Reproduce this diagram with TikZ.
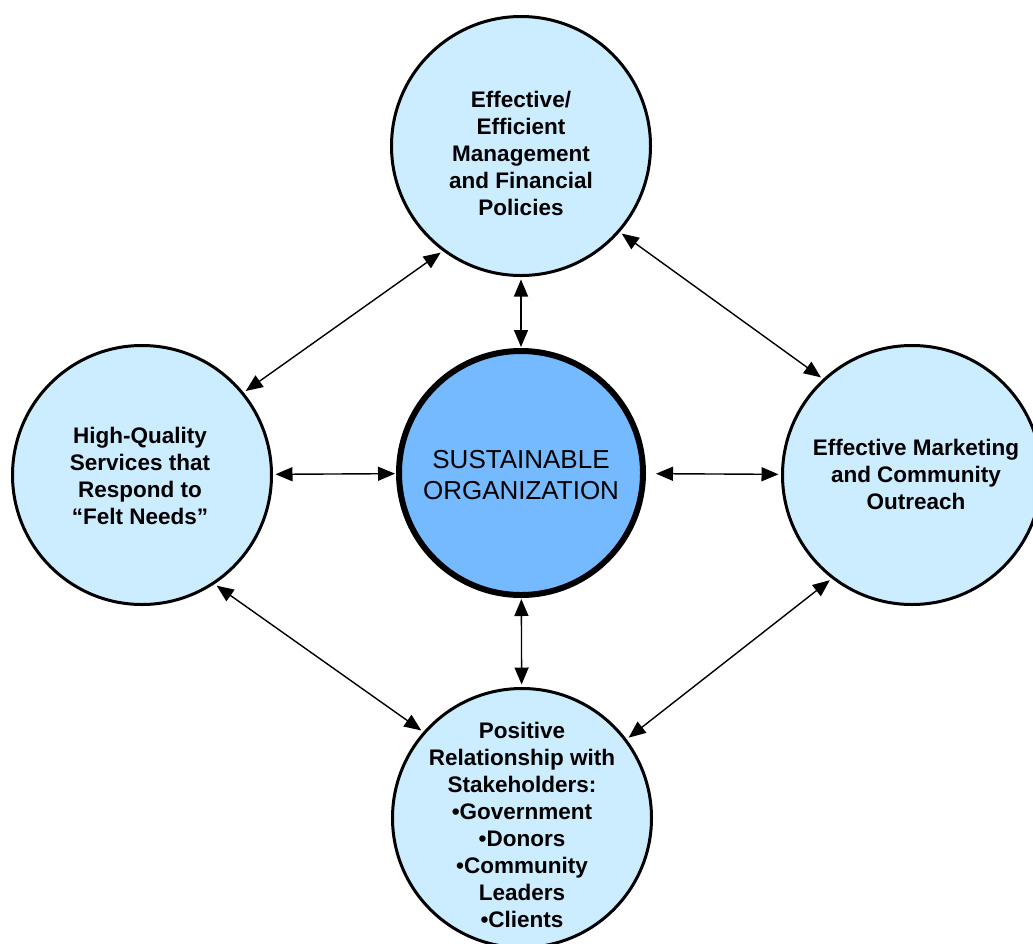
\documentclass[tikz,border=0pt]{standalone}
\usepackage{fontspec}
\setmainfont{Liberation Sans}
\usetikzlibrary{arrows.meta}
\definecolor{paleblue}{RGB}{204,236,255}
\definecolor{coreblue}{RGB}{117,185,255}

\begin{document}
\begin{tikzpicture}[x=1pt,y=-1pt]
  \tikzstyle{Bubble}=[circle,draw,line width=3pt,fill=paleblue,minimum size=259pt,inner sep=0pt,outer sep=4pt]
  \tikzstyle{Core}=[Bubble,line width=6pt,fill=coreblue,minimum size=244pt]
  \tikzstyle{LabelStyle}=[align=center,font=\fontsize{22.5}{27}\selectfont\bfseries]
  \tikzstyle{EdgeStyle}=[{Triangle[length=17pt,width=14pt]}-{Triangle[length=17pt,width=14pt]},line width=1.4pt]
  \clip (0,0) rectangle (1033,943);
  % circles
  \node[Bubble] (T) at (521,146) {};
  \node[Bubble] (L) at (142,475) {};
  \node[Bubble] (R) at (912,475) {};
  \node[Bubble] (B) at (522,818) {};
  \node[Core]   (C) at (521,473) {};
  % texts
  \node[LabelStyle] (Ttxt) at (521,153) {Effective/\\Efficient\\Management\\and Financial\\Policies};
  \node[LabelStyle] (Ltxt) at (140,476) {High-Quality\\Services that\\Respond to\\``Felt Needs''};
  \node[LabelStyle] (Rtxt) at (916,474) {Effective Marketing\\and Community\\Outreach};
  \node[LabelStyle] (Btxt) at (522,825) {Positive\\Relationship with\\Stakeholders:\\\textbullet Government\\\textbullet Donors\\\textbullet Community\\Leaders\\\textbullet Clients};
  \node[align=center,font=\fontsize{26}{31}\selectfont] (Ctxt) at (521,475) {SUSTAINABLE\\ORGANIZATION};
  % links
  \draw[EdgeStyle] (T) -- (C);
  \draw[EdgeStyle] (C) -- (B);
  \draw[EdgeStyle] (L) -- (C);
  \draw[EdgeStyle,shorten <=9pt] (C) -- (R);
  \draw[EdgeStyle] (T.233) -- (L.39);
  \draw[EdgeStyle] (T.319) -- (R.133);
  \draw[EdgeStyle] (L.304) -- (B.139);
  \draw[EdgeStyle] (R.232) -- (B.37);
\end{tikzpicture}
\end{document}
